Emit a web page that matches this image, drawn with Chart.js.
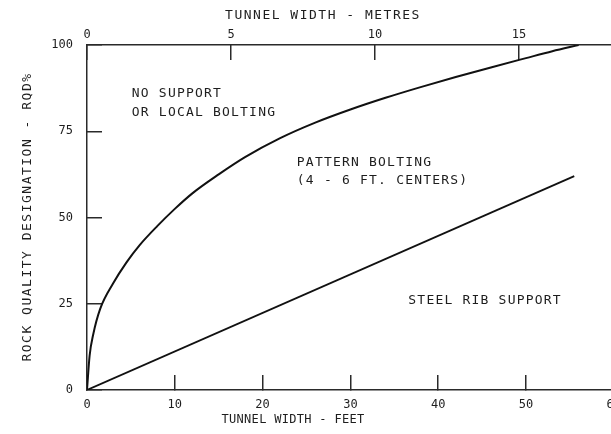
<!DOCTYPE html>
<html>
<head>
<meta charset="utf-8">
<script src="https://cdn.jsdelivr.net/npm/chart.js@4.4.1/dist/chart.umd.min.js"></script>
<style>
    html, body { margin: 0; padding: 0; background: #fff; overflow: hidden; }
    #wrap { width: 644px; height: 434px; }
</style>
</head>
<body>
<div id="wrap"><canvas id="rqdChart" width="644" height="434"></canvas></div>
<script>
// upper boundary: no support / pattern bolting (tunnel width ft -> RQD %)
const boltingFt = [0, 0.3, 0.7, 1.5, 3, 4.5, 6, 8, 10, 12, 15, 18, 22, 26, 30, 34, 38, 42, 46, 50, 53, 56];
const boltingRqd = [0, 10, 16, 23.5, 31, 37, 42, 47.5, 52.5, 57, 62.5, 67.5, 73, 77.5, 81.3, 84.7, 87.8, 90.7, 93.5, 96.2, 98.2, 100];

// lower boundary: pattern bolting / steel ribs
const ribFt = [0, 55.5];
const ribRqd = [0, 62];

const feetTicks = [0, 10, 20, 30, 40, 50, 60];
const metreTicks = [0, 5, 10, 15];
const rqdTicks = [0, 25, 50, 75, 100];

const regionLabels = ['NO SUPPORT', 'OR LOCAL BOLTING', 'PATTERN BOLTING', '(4 - 6 FT. CENTERS)', 'STEEL RIB SUPPORT'];

const FT_PER_M = 3.2808;
const INK = '#1e1e1e';
const tickFont = { family: '"DejaVu Sans Mono", monospace', size: 12 };

const toPoints = (xs, ys) => xs.map((v, i) => ({ x: v, y: ys[i] }));
const fixTicks = list => scale => { scale.ticks = list.map(v => ({ value: v })); };

// where each region label starts, in (ft, RQD)
const labelSpots = [[5.1, 86], [5.1, 80.5], [23.9, 66], [23.9, 60.8], [36.6, 26]];

const paperText = {
    id: 'paperText',
    afterDraw(chart) {
        const { ctx, scales: { x, y } } = chart;
        ctx.save();
        ctx.fillStyle = INK;
        ctx.textBaseline = 'middle';
        ctx.font = '13px "DejaVu Sans Mono", monospace';

        ctx.letterSpacing = '1.2px';
        ctx.textAlign = 'left';
        regionLabels.forEach((txt, i) => {
            const [fx, fy] = labelSpots[i];
            ctx.fillText(txt, x.getPixelForValue(fx), y.getPixelForValue(fy));
        });

        ctx.textAlign = 'center';
        ctx.letterSpacing = '1.5px';
        ctx.fillText('TUNNEL WIDTH - METRES', 323, 16);

        ctx.font = '12px "DejaVu Sans Mono", monospace';
        ctx.letterSpacing = '0.3px';
        ctx.fillText('TUNNEL WIDTH - FEET', 293, 420);

        ctx.font = '13px "DejaVu Sans Mono", monospace';
        ctx.letterSpacing = '1.5px';
        ctx.translate(28, 217);
        ctx.rotate(-Math.PI / 2);
        ctx.fillText('ROCK QUALITY DESIGNATION - RQD%', 0, 0);
        ctx.restore();
    }
};

const axisBase = {
    type: 'linear',
    grid: { drawOnChartArea: false, tickLength: -15, color: '#2a2a2a', lineWidth: 1.5 },
    border: { display: true, color: '#2a2a2a', width: 1.5 }
};

new Chart(document.getElementById('rqdChart'), {
    type: 'scatter',
    data: {
        datasets: [{
            data: toPoints(boltingFt, boltingRqd),
            showLine: true,
            pointRadius: 0,
            borderColor: '#111',
            borderWidth: 2,
            cubicInterpolationMode: 'monotone',
            xAxisID: 'x',
            yAxisID: 'y'
        }, {
            data: toPoints(ribFt, ribRqd),
            showLine: true,
            pointRadius: 0,
            borderColor: '#111',
            borderWidth: 1.8,
            xAxisID: 'x',
            yAxisID: 'y'
        }]
    },
    options: {
        responsive: false,
        animation: false,
        devicePixelRatio: 1,
        layout: { padding: 0 },
        plugins: { legend: { display: false }, tooltip: { enabled: false } },
        scales: {
            x: {
                ...axisBase,
                position: 'bottom',
                min: 0,
                max: 60,
                afterBuildTicks: fixTicks(feetTicks),
                afterFit: s => { s.height = 44; },
                ticks: { font: tickFont, color: INK, padding: 23, maxRotation: 0, autoSkip: false }
            },
            x2: {
                ...axisBase,
                axis: 'x',
                position: 'top',
                min: 0,
                max: 60 / FT_PER_M,
                afterBuildTicks: fixTicks(metreTicks),
                afterFit: s => { s.height = 45; },
                ticks: { font: tickFont, color: INK, padding: 18, maxRotation: 0, autoSkip: false }
            },
            y: {
                ...axisBase,
                position: 'left',
                min: 0,
                max: 100,
                afterBuildTicks: fixTicks(rqdTicks),
                afterFit: s => { s.width = 87; },
                ticks: { font: tickFont, color: INK, padding: 29 }
            }
        }
    },
    plugins: [paperText]
});
</script>
</body>
</html>
